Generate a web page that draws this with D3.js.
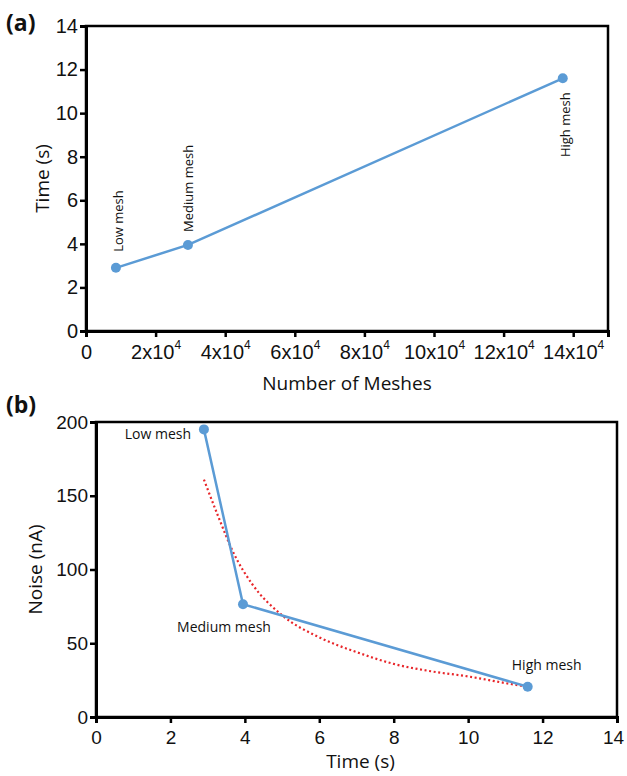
<!DOCTYPE html>
<html>
<head>
<meta charset="utf-8">
<script src="https://cdn.jsdelivr.net/npm/d3@7"></script>
<style>
  body { margin: 0; background: #fff; }
  svg { font-family: "Open Sans", "Noto Sans", sans-serif; }
</style>
</head>
<body>
<svg id="fig" width="627" height="776"></svg>
<script>
// ---------------- data ----------------
const meshNames = ["Low mesh", "Medium mesh", "High mesh"];
const meshCounts = [8600, 29300, 137000];
const simTimes = [2.9, 3.95, 11.6];
const noiseValues = [195, 76.5, 20.5];

// red dotted trend
const trendTime = [2.9, 3.3, 3.7, 4.2, 5.0, 6.0, 7.0, 8.0, 9.0, 10.0, 11.0, 11.6];
const trendNoise = [161, 135, 111, 90, 69, 54, 44, 36, 31, 27.5, 23, 20.5];

const meshTicks = [0, 20000, 40000, 60000, 80000, 100000, 120000, 140000];
const timeTicksA = [0, 2, 4, 6, 8, 10, 12, 14];
const timeTicksB = [0, 2, 4, 6, 8, 10, 12, 14];
const noiseTicks = [0, 50, 100, 150, 200];

const blue = "#5b9bd5";
const svg = d3.select("#fig");

// ---------------- panel (a) ----------------
const a = { left: 86, right: 608, top: 26, bottom: 331 };
const xA = d3.scaleLinear().domain([0, 150000]).range([a.left, a.right]);
const yA = d3.scaleLinear().domain([0, 14]).range([a.bottom, a.top]);

svg.append("rect")
  .attr("x", a.left).attr("y", a.top)
  .attr("width", a.right - a.left).attr("height", a.bottom - a.top)
  .attr("fill", "none").attr("stroke", "#000").attr("stroke-width", 2.5);

const gxA = svg.append("g")
  .attr("transform", "translate(0," + a.bottom + ")")
  .call(d3.axisBottom(xA).tickValues(meshTicks).tickSize(6).tickPadding(8));
gxA.selectAll(".tick text").each(function(d) {
  const t = d3.select(this).text(null).attr("font-size", 20);
  if (d === 0) { t.text("0"); return; }
  t.append("tspan").text((d / 10000) + "x10");
  t.append("tspan").text("4").attr("font-size", 12).attr("dy", -10);
});

const gyA = svg.append("g")
  .attr("transform", "translate(" + a.left + ",0)")
  .call(d3.axisLeft(yA).tickValues(timeTicksA).tickSize(6).tickPadding(2));
gyA.selectAll(".tick text").attr("font-size", 20);

[gxA, gyA].forEach(g => {
  g.select(".domain").attr("stroke-width", 3);
  g.selectAll(".tick line").attr("stroke-width", 2.5);
  g.selectAll(".tick text").attr("fill", "#111");
});

const ptsA = meshCounts.map((m, i) => ({ x: m, y: simTimes[i], name: meshNames[i] }));
svg.append("path")
  .datum(ptsA)
  .attr("fill", "none").attr("stroke", blue).attr("stroke-width", 2.5)
  .attr("d", d3.line().x(d => xA(d.x)).y(d => yA(d.y)));
svg.selectAll(".ptA").data(ptsA).join("circle")
  .attr("cx", d => xA(d.x)).attr("cy", d => yA(d.y)).attr("r", 5).attr("fill", blue);

// rotated point labels
const labOffA = [{ dx: 2, dy: -16, anchor: "start" }, { dx: 0, dy: -13, anchor: "start" }, { dx: 2, dy: 14, anchor: "end" }];
svg.selectAll(".labA").data(ptsA).join("text")
  .attr("transform", (d, i) => "translate(" + (xA(d.x) + labOffA[i].dx + 5) + "," + (yA(d.y) + labOffA[i].dy) + ") rotate(-90)")
  .attr("text-anchor", (d, i) => labOffA[i].anchor)
  .attr("font-size", 13).attr("fill", "#111")
  .text(d => d.name);

svg.append("text")
  .attr("x", 347).attr("y", 390)
  .attr("text-anchor", "middle").attr("font-size", 19).attr("fill", "#111")
  .text("Number of Meshes");
svg.append("text")
  .attr("transform", "translate(49," + (a.top + a.bottom) / 2 + ") rotate(-90)")
  .attr("text-anchor", "middle").attr("font-size", 19).attr("fill", "#111")
  .text("Time (s)");
svg.append("text")
  .attr("x", 6).attr("y", 31)
  .attr("font-size", 23).attr("font-weight", "bold").attr("fill", "#111")
  .text("(a)");

// ---------------- panel (b) ----------------
const b = { left: 96, right: 617, top: 422, bottom: 717 };
const xB = d3.scaleLinear().domain([0, 14]).range([b.left, b.right]);
const yB = d3.scaleLinear().domain([0, 200]).range([b.bottom, b.top]);

svg.append("rect")
  .attr("x", b.left).attr("y", b.top)
  .attr("width", b.right - b.left).attr("height", b.bottom - b.top)
  .attr("fill", "none").attr("stroke", "#000").attr("stroke-width", 2.5);

const gxB = svg.append("g")
  .attr("transform", "translate(0," + b.bottom + ")")
  .call(d3.axisBottom(xB).tickValues(timeTicksB).tickSize(6).tickPadding(8));
const gyB = svg.append("g")
  .attr("transform", "translate(" + b.left + ",0)")
  .call(d3.axisLeft(yB).tickValues(noiseTicks).tickSize(6).tickPadding(2));

[gxB, gyB].forEach(g => {
  g.select(".domain").attr("stroke-width", 3);
  g.selectAll(".tick line").attr("stroke-width", 2.5);
  g.selectAll(".tick text").attr("font-size", 19).attr("fill", "#111");
});
// last label sits at the page edge, nudge it in
gxB.selectAll(".tick text").filter(d => d === 14).attr("dx", -4);

const trend = trendTime.map((t, i) => ({ x: t, y: trendNoise[i] }));
svg.append("path")
  .datum(trend)
  .attr("fill", "none").attr("stroke", "#e8262a").attr("stroke-width", 2.2)
  .attr("stroke-dasharray", "2,2.6")
  .attr("d", d3.line().curve(d3.curveMonotoneX).x(d => xB(d.x)).y(d => yB(d.y)));

const ptsB = simTimes.map((t, i) => ({ x: t, y: noiseValues[i], name: meshNames[i] }));
svg.append("path")
  .datum(ptsB)
  .attr("fill", "none").attr("stroke", blue).attr("stroke-width", 2.5)
  .attr("d", d3.line().x(d => xB(d.x)).y(d => yB(d.y)));
svg.selectAll(".ptB").data(ptsB).join("circle")
  .attr("cx", d => xB(d.x)).attr("cy", d => yB(d.y)).attr("r", 5).attr("fill", blue);

const labOffB = [{ dx: -46, dy: 10 }, { dx: -19, dy: 28 }, { dx: 19, dy: -17 }];
svg.selectAll(".labB").data(ptsB).join("text")
  .attr("x", (d, i) => xB(d.x) + labOffB[i].dx)
  .attr("y", (d, i) => yB(d.y) + labOffB[i].dy)
  .attr("text-anchor", "middle").attr("font-size", 14).attr("fill", "#111")
  .text(d => d.name);

svg.append("text")
  .attr("x", (b.left + b.right) / 2 + 4).attr("y", 768)
  .attr("text-anchor", "middle").attr("font-size", 19).attr("fill", "#111")
  .text("Time (s)");
svg.append("text")
  .attr("transform", "translate(42," + (b.top + b.bottom) / 2 + ") rotate(-90)")
  .attr("text-anchor", "middle").attr("font-size", 19).attr("fill", "#111")
  .text("Noise (nA)");
svg.append("text")
  .attr("x", 6).attr("y", 413)
  .attr("font-size", 23).attr("font-weight", "bold").attr("fill", "#111")
  .text("(b)");
</script>
</body>
</html>
